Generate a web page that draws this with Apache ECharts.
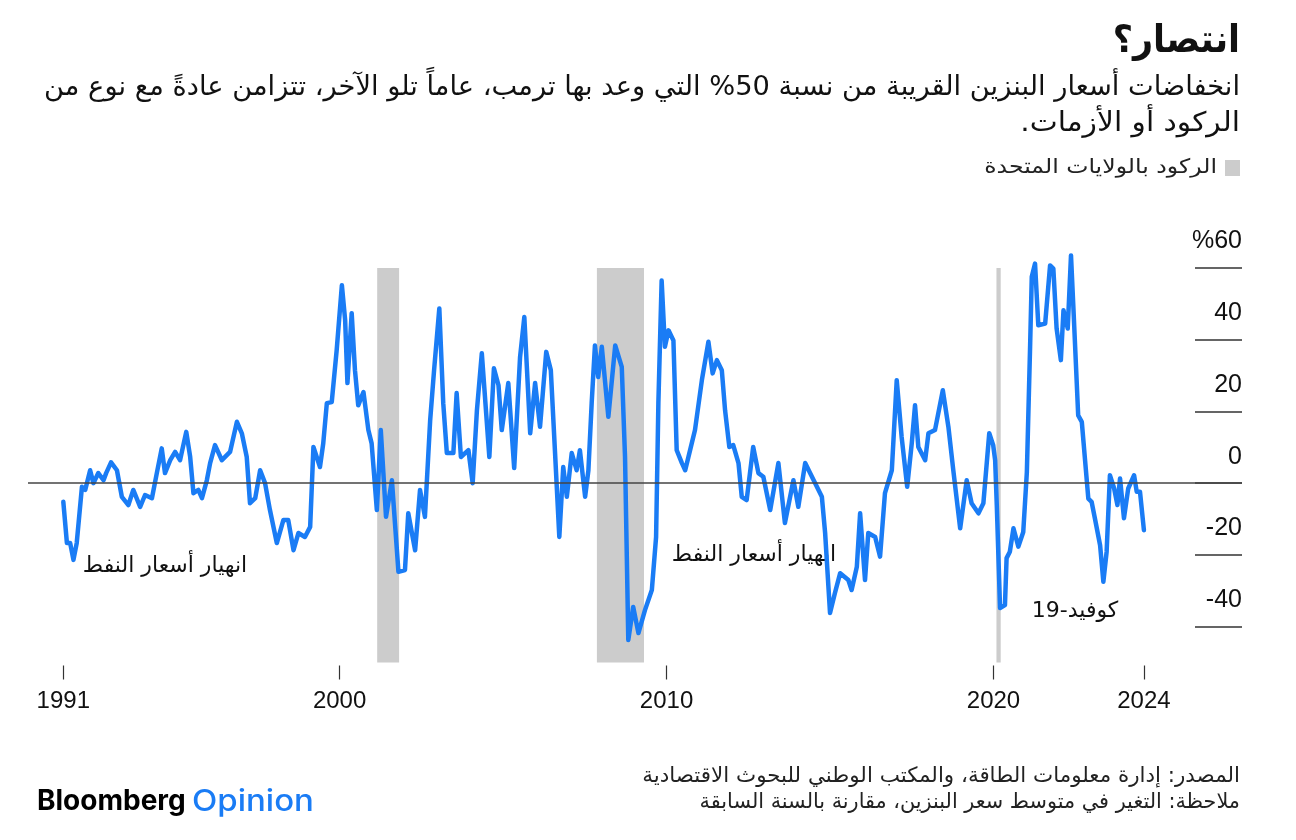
<!DOCTYPE html>
<html><head><meta charset="utf-8">
<script src="https://cdn.jsdelivr.net/npm/echarts@6/dist/echarts.min.js"></script>
<style>html,body{margin:0;padding:0;background:#fff}#c{width:1296px;height:840px}</style>
</head><body><div id="c"></div>
<script>
// Year-over-year change in average gasoline price, % : [decimal year, value]
const pts1990s = [[1991.55,-5.2],[1991.66,-16.7],[1991.76,-16.7],[1991.86,-21.4],[1991.96,-16.7],[1992.12,-1.0],[1992.22,-1.9],[1992.37,3.6],[1992.47,0],[1992.62,2.8],[1992.78,0.8],[1992.86,2.8],[1993.01,5.8],[1993.19,3.6],[1993.34,-3.8],[1993.54,-6.1],[1993.69,-1.9],[1993.90,-6.6],[1994.05,-3.3],[1994.26,-4.2],[1994.41,2.8],[1994.56,9.7],[1994.66,2.8],[1994.82,6.4],[1994.97,8.7],[1995.12,6.4],[1995.31,14.3],[1995.43,7.3],[1995.53,-2.8],[1995.68,-1.9],[1995.79,-4.2],[1995.94,0.8],[1996.04,5.6],[1996.19,10.6],[1996.40,6.4],[1996.65,8.7],[1996.86,17.1],[1997.01,13.9],[1997.16,7.3],[1997.26,-5.6],[1997.42,-4.2],[1997.57,3.6],[1997.72,0],[1997.87,-7.5],[1998.08,-16.7],[1998.28,-10.3],[1998.43,-10.3],[1998.59,-18.7],[1998.74,-13.9],[1998.94,-15.0],[1999.10,-12.2],[1999.20,10.1],[1999.30,7.3],[1999.40,4.5],[1999.50,11.1],[1999.61,22.3],[1999.76,22.6],[1999.91,37.0]];
const pts2000s = [[2000.07,55.2],[2000.17,45.4],[2000.24,27.9],[2000.37,47.4],[2000.47,31.5],[2000.57,21.7],[2000.73,25.4],[2000.88,14.8],[2000.98,11.1],[2001.14,-7.5],[2001.26,14.8],[2001.42,-9.4],[2001.60,0.8],[2001.80,-24.7],[2002.00,-24.2],[2002.10,-8.4],[2002.31,-18.7],[2002.46,-1.9],[2002.61,-9.4],[2002.77,17.5],[2002.89,31.5],[2003.05,48.7],[2003.17,22.3],[2003.28,8.4],[2003.48,8.4],[2003.58,25.1],[2003.71,7.3],[2003.94,9.2],[2004.07,0],[2004.20,20.3],[2004.35,36.2],[2004.58,7.3],[2004.72,32.0],[2004.86,27.3],[2004.96,14.8],[2005.16,27.9],[2005.34,4.2],[2005.52,35.2],[2005.65,46.3],[2005.83,13.9],[2005.98,27.9],[2006.13,15.7],[2006.32,36.6],[2006.46,31.5],[2006.59,8.4],[2006.72,-15.0],[2006.84,4.5],[2006.95,-3.8],[2007.10,8.4],[2007.25,3.6],[2007.35,9.2],[2007.51,-3.8],[2007.61,3.6],[2007.71,22.3],[2007.81,38.4],[2007.91,29.6],[2008.02,38.0],[2008.22,18.5],[2008.43,38.4],[2008.63,32.4],[2008.73,7.3],[2008.83,-43.7],[2008.98,-34.5],[2009.14,-41.8],[2009.34,-35.4],[2009.55,-29.8],[2009.68,-15.0],[2009.75,22.3],[2009.85,56.5],[2009.95,38.0]];
const pts2010s = [[2010.06,42.6],[2010.21,39.8],[2010.31,9.2],[2010.47,5.6],[2010.57,3.6],[2010.72,9.2],[2010.87,14.8],[2011.08,28.7],[2011.28,39.4],[2011.41,30.6],[2011.54,34.3],[2011.69,31.5],[2011.79,20.3],[2011.92,10.1],[2012.04,10.6],[2012.20,5.6],[2012.30,-3.8],[2012.45,-4.7],[2012.65,10.1],[2012.81,2.8],[2012.96,1.8],[2013.17,-7.5],[2013.42,5.6],[2013.62,-11.1],[2013.88,0.8],[2014.03,-6.6],[2014.24,5.6],[2014.39,2.8],[2014.75,-3.8],[2014.85,-13.9],[2015.00,-36.2],[2015.15,-30.6],[2015.31,-25.1],[2015.56,-27.0],[2015.66,-29.8],[2015.82,-23.3],[2015.92,-8.4],[2016.07,-27.0],[2016.17,-13.9],[2016.38,-15.0],[2016.53,-20.5],[2016.68,-2.8],[2016.89,3.6],[2017.04,28.7],[2017.19,12.9],[2017.36,-1.0],[2017.50,11.1],[2017.60,21.7],[2017.70,10.1],[2017.91,6.4],[2018.01,13.9],[2018.21,14.8],[2018.45,25.9],[2018.62,15.7],[2018.77,3.6],[2018.98,-12.6],[2019.18,0.8],[2019.33,-5.6],[2019.54,-8.4],[2019.69,-5.6],[2019.87,13.9],[2019.99,10.6]];
const pts2020s = [[2020.05,6.4],[2020.10,-6.1],[2020.20,-34.8],[2020.35,-34.0],[2020.40,-20.9],[2020.50,-19.1],[2020.61,-12.6],[2020.76,-17.7],[2020.91,-13.6],[2021.02,3.1],[2021.12,38.4],[2021.17,57.5],[2021.27,61.2],[2021.37,44.0],[2021.58,44.5],[2021.73,60.7],[2021.83,59.8],[2021.93,43.1],[2022.06,34.3],[2022.14,48.2],[2022.27,43.1],[2022.37,63.5],[2022.44,49.6],[2022.59,18.9],[2022.70,17.1],[2022.90,-4.3],[2023.00,-5.2],[2023.10,-9.8],[2023.26,-17.3],[2023.36,-27.5],[2023.46,-19.1],[2023.56,2.2],[2023.69,-1.5],[2023.79,-6.1],[2023.87,1.3],[2023.99,-9.8],[2024.12,-1.5],[2024.30,2.2],[2024.38,-2.4],[2024.48,-2.4],[2024.60,-13.1]];

// US recessions (decimal years)
const recessionStart = [2001.15, 2007.87, 2020.09];
const recessionEnd   = [2001.82, 2009.31, 2020.22];

// Axis ticks
const xTickValues = [1991.55, 2000, 2010, 2020, 2024.6];
const xTickLabels = ['1991', '2000', '2010', '2020', '2024'];
const yTickValues = [-40, -20, 0, 20, 40, 60];
const yTickLabels = ['-40', '-20', '0', '20', '40', '%60'];

// Texts
const titleText = 'انتصار؟';
const subtitleLines = ['انخفاضات أسعار البنزين القريبة من نسبة 50% التي وعد بها ترمب، عاماً تلو الآخر، تتزامن عادةً مع نوع من', 'الركود أو الأزمات.'];
const legendText = 'الركود بالولايات المتحدة';
const sourceLines = ['المصدر: إدارة معلومات الطاقة، والمكتب الوطني للبحوث الاقتصادية', 'ملاحظة: التغير في متوسط سعر البنزين، مقارنة بالسنة السابقة'];
const annOil = 'انهيار أسعار النفط';
const annCovid = 'كوفيد-19';

const rtl = s => '\u202B' + s + '\u202C';
const AR = '"DejaVu Sans", sans-serif';
const NUM = '"Liberation Sans", Arial, sans-serif';
const BLUE = '#1a7cf5';

const seriesData = [].concat(pts1990s, pts2000s, pts2010s, pts2020s);

function txt(x, y, text, font, fill, align, scaleX) {
  return {type: 'text', x: x, y: y, scaleX: scaleX || 1,
    style: {text: text, font: font, fill: fill, align: align, verticalAlign: 'middle', textAlign: align, textVerticalAlign: 'middle'}};
}

const chart = echarts.init(document.getElementById('c'), null, {renderer: 'canvas'});
chart.setOption({
  animation: false,
  backgroundColor: '#fff',
  grid: {left: 28, right: 54, top: 250, bottom: 177.5, containLabel: false},
  xAxis: [{
    type: 'value', min: 1990.47, max: 2027.6, position: 'bottom', offset: 3,
    axisLine: {show: false, onZero: false},
    splitLine: {show: false},
    axisTick: {show: true, customValues: xTickValues, length: 14, lineStyle: {color: '#333', width: 1.2}},
    axisLabel: {show: true, customValues: xTickValues, margin: 24, fontSize: 24, color: '#111', fontFamily: NUM,
      formatter: v => xTickLabels[xTickValues.indexOf(v)] || ''}
  }],
  yAxis: [{
    type: 'value', min: -50, max: 65, position: 'right',
    axisLine: {show: false, onZero: false},
    splitLine: {show: false},
    axisTick: {show: true, inside: true, customValues: yTickValues, length: 47, lineStyle: {color: '#333', width: 1.5}},
    axisLabel: {show: true, inside: true, customValues: yTickValues, margin: 0, fontSize: 25, color: '#111', fontFamily: NUM,
      align: 'right', verticalAlign: 'bottom', padding: [0, 0, 14, 0],
      formatter: v => yTickLabels[yTickValues.indexOf(v)] || ''}
  }],
  series: [
    {
      type: 'line', z: 1, data: [], silent: true,
      markArea: {silent: true, itemStyle: {color: '#cccccc', opacity: 1},
        data: recessionStart.map((s, i) => [{coord: [s, -50]}, {coord: [recessionEnd[i], 60]}])}
    },
    {
      type: 'line', z: 2, data: [], silent: true,
      markLine: {silent: true, symbol: ['none', 'none'], label: {show: false},
        lineStyle: {color: '#444', width: 1.5, type: 'solid'}, data: [{yAxis: 0}]}
    },
    {
      type: 'line', z: 3, data: seriesData, showSymbol: false, symbol: 'none',
      lineStyle: {color: BLUE, width: 4.5, join: 'round', cap: 'round'}, clip: true
    }
  ],
  graphic: [
    txt(1240, 42, rtl(titleText), 'bold 38px ' + AR, '#111', 'right', 0.92),
    txt(1240, 88, rtl(subtitleLines[0]), '27px ' + AR, '#111', 'right', 1.01),
    txt(1240, 124, rtl(subtitleLines[1]), '27px ' + AR, '#111', 'right', 1.1),
    {type: 'rect', shape: {x: 1225, y: 160, width: 15, height: 16}, style: {fill: '#cccccc'}},
    txt(1217, 168, rtl(legendText), '20px ' + AR, '#222', 'right', 1.18),
    txt(165, 566, rtl(annOil), '22px ' + AR, '#111', 'center'),
    txt(754, 555, rtl(annOil), '22px ' + AR, '#111', 'center'),
    txt(1075, 611, rtl(annCovid), '22px ' + AR, '#111', 'center'),
    txt(1240, 777, rtl(sourceLines[0]), '21px ' + AR, '#222', 'right', 1.02),
    txt(1240, 803, rtl(sourceLines[1]), '21px ' + AR, '#222', 'right', 0.99),
    txt(37, 802, 'Bloomberg', 'bold 28px Inter, "Liberation Sans", sans-serif', '#000', 'left'),
    txt(192, 802, 'Opinion', '500 30px Inter, "Liberation Sans", sans-serif', BLUE, 'left', 1.1)
  ]
});
</script></body></html>
